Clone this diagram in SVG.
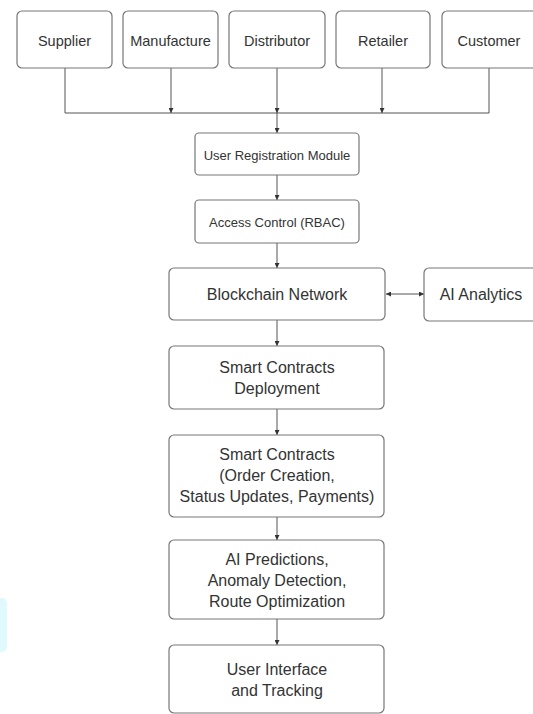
<svg xmlns="http://www.w3.org/2000/svg" width="533" height="714" viewBox="0 0 533 714">
<defs>
<marker id="ah" viewBox="0 0 10 10" refX="10" refY="5" markerWidth="5" markerHeight="5" orient="auto-start-reverse" markerUnits="userSpaceOnUse">
<path d="M0,0 L10,5 L0,10 z" fill="#333"/>
</marker>
<style>
.box{fill:#fff;stroke:#777;stroke-width:1.2}
.t{font-family:"Liberation Sans",Arial,sans-serif;fill:#333;text-anchor:middle;dominant-baseline:central}
.s14{font-size:14.5px}
.s13{font-size:13px}
.s16{font-size:16px}
.c{fill:none;stroke:#555;stroke-width:1}
</style>
</defs>
<rect width="533" height="714" fill="#fff"/>
<rect x="-6" y="598" width="13" height="54" rx="5" fill="#dff9fc"/>
<g id="connectors">
<path class="c" d="M65,68 V113 H489 V68"/>
<path class="c" d="M171,68 V113" marker-end="url(#ah)"/>
<path class="c" d="M277,68 V113" marker-end="url(#ah)"/>
<path class="c" d="M382,68 V113" marker-end="url(#ah)"/>
<path class="c" d="M277,113 V133" marker-end="url(#ah)"/>
<path class="c" d="M277,175 V200" marker-end="url(#ah)"/>
<path class="c" d="M277,243 V268" marker-end="url(#ah)"/>
<path class="c" d="M386,294 H424" marker-start="url(#ah)" marker-end="url(#ah)"/>
<path class="c" d="M277,320 V346" marker-end="url(#ah)"/>
<path class="c" d="M277,409 V435" marker-end="url(#ah)"/>
<path class="c" d="M277,517 V540" marker-end="url(#ah)"/>
<path class="c" d="M277,619 V645" marker-end="url(#ah)"/>
</g>
<g id="supplier"><rect class="box" x="17" y="11" width="95" height="57" rx="5"/><text class="t s14" x="64.5" y="41">Supplier</text></g>
<g id="manufacture"><rect class="box" x="123" y="11" width="95" height="57" rx="5"/><text class="t s14" x="170.5" y="41">Manufacture</text></g>
<g id="distributor"><rect class="box" x="229" y="11" width="96" height="57" rx="5"/><text class="t s14" x="277" y="41">Distributor</text></g>
<g id="retailer"><rect class="box" x="336" y="11" width="94" height="57" rx="5"/><text class="t s14" x="383" y="41">Retailer</text></g>
<g id="customer"><rect class="box" x="442" y="11" width="96" height="57" rx="5"/><text class="t s14" x="489" y="41">Customer</text></g>
<g id="user-registration"><rect class="box" x="195" y="133" width="164" height="42" rx="4"/><text class="t s13" x="277" y="155">User Registration Module</text></g>
<g id="access-control"><rect class="box" x="195" y="200" width="164" height="43" rx="4"/><text class="t s13" x="277" y="222">Access Control (RBAC)</text></g>
<g id="blockchain"><rect class="box" x="169" y="268" width="216" height="52" rx="5"/><text class="t s16" x="277" y="294">Blockchain Network</text></g>
<g id="ai-analytics"><rect class="box" x="424" y="268" width="114" height="53" rx="5"/><text class="t s16" x="481" y="294">AI Analytics</text></g>
<g id="sc-deployment"><rect class="box" x="169" y="346" width="215" height="63" rx="5"/><text class="t s16" x="277" y="367">Smart Contracts</text><text class="t s16" x="277" y="388">Deployment</text></g>
<g id="smart-contracts"><rect class="box" x="169" y="435" width="215" height="82" rx="5"/><text class="t s16" x="277" y="454">Smart Contracts</text><text class="t s16" x="277" y="475">(Order Creation,</text><text class="t s16" x="277" y="496">Status Updates, Payments)</text></g>
<g id="ai-predictions"><rect class="box" x="169" y="540" width="215" height="79" rx="5"/><text class="t s16" x="277" y="559">AI Predictions,</text><text class="t s16" x="277" y="580">Anomaly Detection,</text><text class="t s16" x="277" y="601">Route Optimization</text></g>
<g id="user-interface"><rect class="box" x="169" y="645" width="215" height="68" rx="5"/><text class="t s16" x="277" y="669">User Interface</text><text class="t s16" x="277" y="690">and Tracking</text></g>
</svg>
